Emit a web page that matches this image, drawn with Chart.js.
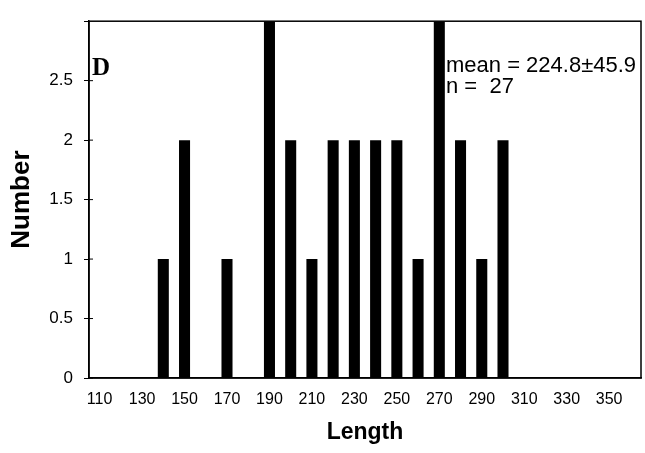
<!DOCTYPE html>
<html>
<head>
<meta charset="utf-8">
<script src="https://cdn.jsdelivr.net/npm/chart.js@4"></script>
<style>
  html, body { margin: 0; padding: 0; background: #fff; }
  #wrap { width: 645px; height: 453px; }
</style>
</head>
<body>
<div id="wrap"><canvas id="lengthChart" width="645" height="453"></canvas></div>
<script>
// length classes on the x axis
const lengths = [110, 120, 130, 140, 150, 160, 170, 180, 190, 200, 210, 220, 230,
  240, 250, 260, 270, 280, 290, 300, 310, 320, 330, 340, 350, 360];
// number of fish in each class
const counts = [0, 0, 0, 1, 2, 0, 1, 0, 3, 2, 1, 2, 2,
  2, 2, 1, 3, 2, 1, 2, 0, 0, 0, 0, 0, 0];
const yTicks = [0, 0.5, 1, 1.5, 2, 2.5];
const panelLetter = "D";
const statLines = ["mean = 224.8\u00b145.9", "n =  27"];

const sans = "'Liberation Sans', Arial, Helvetica, sans-serif";

// frame around the plot, small inner tick marks and the text notes
const extras = {
  id: "extras",
  afterDraw(chart) {
    const { ctx, chartArea: a } = chart;
    const y = chart.scales.y;
    ctx.save();
    ctx.strokeStyle = "#000";
    ctx.lineWidth = 1.5;
    ctx.strokeRect(a.left, a.top, a.right - a.left, a.bottom - a.top);
    ctx.lineWidth = 1;
    yTicks.forEach((v) => {
      const py = y.getPixelForValue(v);
      ctx.beginPath();
      ctx.moveTo(a.left, py);
      ctx.lineTo(a.left + 4, py);
      ctx.stroke();
    });
    ctx.fillStyle = "#000";
    ctx.textBaseline = "middle";
    ctx.textAlign = "left";
    ctx.font = "bold 25px 'Liberation Serif', 'Times New Roman', serif";
    ctx.fillText(panelLetter, a.left + 3, a.top + 47);
    ctx.font = "22px " + sans;
    ctx.fillText(statLines[0], a.left + 357, a.top + 45);
    ctx.fillText(statLines[1], a.left + 357, a.top + 66);
    ctx.restore();
  },
};

new Chart(document.getElementById("lengthChart").getContext("2d"), {
  type: "bar",
  data: {
    labels: lengths,
    datasets: [
      {
        label: "Number",
        data: counts,
        backgroundColor: "#000",
        borderWidth: 0,
        categoryPercentage: 1,
        barPercentage: 0.52,
      },
    ],
  },
  options: {
    responsive: false,
    animation: false,
    layout: { padding: { top: 18, right: 4, left: 0, bottom: 0 } },
    plugins: {
      legend: { display: false },
      tooltip: { enabled: false },
    },
    scales: {
      x: {
        afterFit: (s) => { s.height = 75; },
        grid: { drawOnChartArea: false, drawTicks: false },
        border: { color: "#000", width: 1.5 },
        ticks: {
          autoSkip: false,
          maxRotation: 0,
          padding: 12,
          color: "#000",
          font: { family: sans, size: 16 },
          callback: (v, i) => (i % 2 === 0 ? lengths[i] : ""),
        },
        title: {
          display: true,
          text: "Length",
          color: "#000",
          font: { family: sans, size: 23, weight: "bold" },
          padding: { bottom: 7 },
        },
      },
      y: {
        min: 0,
        max: 3,
        afterFit: (s) => { s.width = 89; },
        grid: { drawOnChartArea: false, drawTicks: true, tickLength: 5, color: "#000" },
        border: { color: "#000", width: 1.5 },
        ticks: {
          stepSize: 0.5,
          padding: 11,
          color: "#000",
          font: { family: sans, size: 17 },
          callback: (v) => (yTicks.includes(v) ? String(v) : ""),
        },
        title: {
          display: true,
          text: "Number",
          color: "#000",
          font: { family: sans, size: 26, weight: "bold" },
          padding: { top: 6 },
        },
      },
    },
  },
  plugins: [extras],
});
</script>
</body>
</html>
